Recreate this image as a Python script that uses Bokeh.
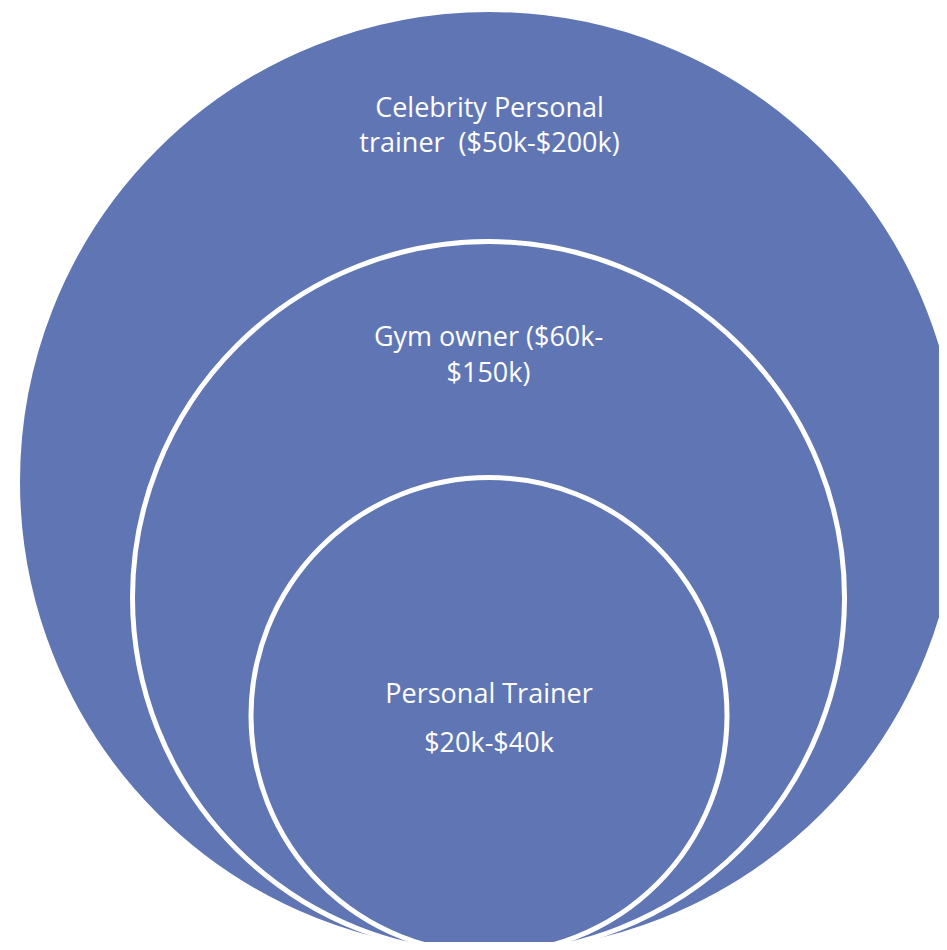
from bokeh.plotting import figure
from bokeh.models import Range1d, ColumnDataSource
from bokeh.core.properties import value
from bokeh.embed import file_html
from bokeh.resources import INLINE

# Data: career levels (outer to inner) and their salary ranges
roles = ["Celebrity Personal trainer", "Gym owner", "Personal Trainer"]
salary_ranges = ["($50k-$200k)", "($60k-$150k)", "$20k-$40k"]
label_lines = [
    ["Celebrity Personal", "trainer \u00a0($50k-$200k)"],
    ["Gym owner ($60k-", "$150k)"],
    ["Personal Trainer", "$20k-$40k"],
]

# Layout (pixel coordinates of the picture)
PW, PH = 939, 942
cx = [489, 488, 488.5]
cy = [481, 597, 715]
radii = [472, 356, 238]
label_y = [[106, 141], [335, 371], [692, 741]]

FILL = "#6076b4"
FONT = "Open Sans"

p = figure(width=PW, height=PH, output_backend="svg", toolbar_location=None,
           x_range=Range1d(0, PW), y_range=Range1d(PH, 0), min_border=0)
p.axis.visible = False
p.grid.visible = False
p.outline_line_color = None
p.background_fill_color = "white"
p.border_fill_color = "white"

src = ColumnDataSource(dict(x=cx, y=cy, r=radii, role=roles))
p.circle(x="x", y="y", radius="r", source=src, fill_color=FILL,
         line_color="white", line_width=5)

tx, ty, tt = [], [], []
for i, lines in enumerate(label_lines):
    for j, t in enumerate(lines):
        tx.append(cx[i])
        ty.append(label_y[i][j])
        tt.append(t)

p.text(x=tx, y=ty, text=tt, text_color="white", text_font=value(FONT),
       text_font_size="27px", text_align="center", text_baseline="middle")

open("out.html", "w").write(file_html(p, INLINE))
